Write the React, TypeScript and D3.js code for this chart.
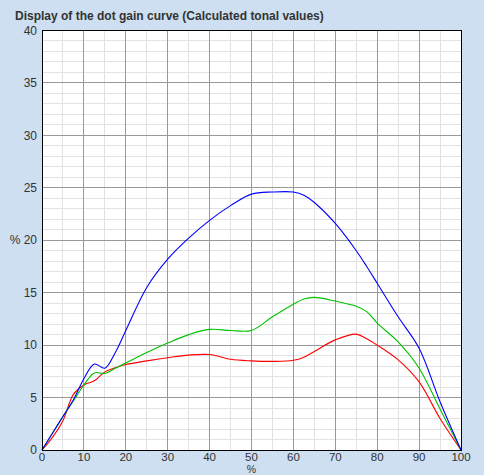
import React, { useEffect, useRef } from 'react';
import * as d3 from 'd3';

// tonal value (%) sampled along the x axis
const tones = [0, 2.5, 5, 7.5, 10, 12.5, 15, 17.5, 20, 25, 30, 35, 40, 45, 50, 55, 60, 62.5, 65, 70, 75, 77.5, 80, 85, 90, 95, 100];

// dot gain (%) per curve
const blueGain = [0, 1.6, 3.2, 4.8, 6.8, 8.2, 7.8, 9.3, 11.4, 15.5, 18.2, 20.2, 21.9, 23.3, 24.4, 24.6, 24.6, 24.3, 23.6, 21.6, 19.0, 17.5, 15.9, 12.7, 9.7, 4.6, 0];
const greenGain = [0, 1.6, 3.2, 4.7, 6.2, 7.35, 7.3, 7.8, 8.3, 9.3, 10.2, 11.0, 11.5, 11.4, 11.4, 12.7, 13.9, 14.4, 14.55, 14.2, 13.7, 13.2, 12.1, 10.3, 7.8, 3.9, 0];
const redGain = [0, 1.2, 2.8, 5.3, 6.2, 6.6, 7.45, 7.85, 8.15, 8.5, 8.8, 9.05, 9.1, 8.65, 8.5, 8.45, 8.55, 8.85, 9.4, 10.5, 11.05, 10.6, 10.0, 8.6, 6.5, 3.0, 0];

const xTicks = [0, 10, 20, 30, 40, 50, 60, 70, 80, 90, 100];
const yTicks = [0, 5, 10, 15, 20, 25, 30, 35, 40];

const series = [
  { name: 'red', values: redGain, color: '#ff0000' },
  { name: 'green', values: greenGain, color: '#00c000' },
  { name: 'blue', values: blueGain, color: '#0000ff' },
];

const W = 484;
const H = 475;

export default function App() {
  const svgRef = useRef<SVGSVGElement | null>(null);

  useEffect(() => {
    document.body.style.margin = '0';
    if (!svgRef.current) return;

    const margin = { top: 30.5, right: 23, bottom: 25, left: 42 };
    const x0 = margin.left;
    const x1 = W - margin.right;
    const y0 = H - margin.bottom;
    const y1 = margin.top;

    const x = d3.scaleLinear().domain([0, 100]).range([x0, x1]);
    const y = d3.scaleLinear().domain([0, 40]).range([y0, y1]);

    const svg = d3.select(svgRef.current);
    svg.selectAll('*').remove();

    svg.append('rect').attr('width', W).attr('height', H).attr('fill', '#cddff0');

    svg
      .append('text')
      .attr('x', 15)
      .attr('y', 20)
      .attr('font-family', 'Liberation Sans, Arial, sans-serif')
      .attr('font-size', 12)
      .attr('font-weight', 'bold')
      .attr('fill', '#333')
      .text('Display of the dot gain curve (Calculated tonal values)');

    svg
      .append('rect')
      .attr('x', x0)
      .attr('y', y1)
      .attr('width', x1 - x0)
      .attr('height', y0 - y1)
      .attr('fill', '#fff');

    const grid = svg.append('g').attr('shape-rendering', 'crispEdges');

    // minor grid
    grid
      .selectAll('line.mx')
      .data(d3.range(5, 100, 10))
      .enter()
      .append('line')
      .attr('x1', (d) => x(d))
      .attr('x2', (d) => x(d))
      .attr('y1', y1)
      .attr('y2', y0)
      .attr('stroke', '#e2e2e2');
    grid
      .selectAll('line.my')
      .data(d3.range(1, 40).filter((d) => d % 5 !== 0))
      .enter()
      .append('line')
      .attr('x1', x0)
      .attr('x2', x1)
      .attr('y1', (d) => y(d))
      .attr('y2', (d) => y(d))
      .attr('stroke', '#e2e2e2');

    // major grid
    grid
      .selectAll('line.Mx')
      .data(xTicks.slice(1, -1))
      .enter()
      .append('line')
      .attr('x1', (d) => x(d))
      .attr('x2', (d) => x(d))
      .attr('y1', y1)
      .attr('y2', y0)
      .attr('stroke', '#999');
    grid
      .selectAll('line.My')
      .data(yTicks.slice(1, -1))
      .enter()
      .append('line')
      .attr('x1', x0)
      .attr('x2', x1)
      .attr('y1', (d) => y(d))
      .attr('y2', (d) => y(d))
      .attr('stroke', '#999');

    const line = d3
      .line<number>()
      .x((_, i) => x(tones[i]))
      .y((d) => y(d))
      .curve(d3.curveCatmullRom.alpha(0.5));

    svg
      .append('g')
      .selectAll('path')
      .data(series)
      .enter()
      .append('path')
      .attr('d', (s) => line(s.values))
      .attr('fill', 'none')
      .attr('stroke', (s) => s.color)
      .attr('stroke-width', 1.1);

    svg
      .append('rect')
      .attr('x', x0)
      .attr('y', y1)
      .attr('width', x1 - x0)
      .attr('height', y0 - y1)
      .attr('fill', 'none')
      .attr('stroke', '#000')
      .attr('shape-rendering', 'crispEdges');

    const font = 'Liberation Sans, Arial, sans-serif';

    svg
      .append('g')
      .selectAll('text')
      .data(xTicks)
      .enter()
      .append('text')
      .attr('x', (d) => x(d))
      .attr('y', y0 + 11)
      .attr('text-anchor', 'middle')
      .attr('font-family', font)
      .attr('font-size', 11.5)
      .attr('fill', '#333')
      .text((d) => d);

    svg
      .append('g')
      .selectAll('text')
      .data(yTicks)
      .enter()
      .append('text')
      .attr('x', x0 - 5)
      .attr('y', (d) => y(d))
      .attr('dy', '0.35em')
      .attr('text-anchor', 'end')
      .attr('font-family', font)
      .attr('font-size', 12)
      .attr('fill', '#333')
      .text((d) => (d === 20 ? `% ${d}` : `${d}`));

    svg
      .append('text')
      .attr('x', x(50))
      .attr('y', H - 2)
      .attr('text-anchor', 'middle')
      .attr('font-family', font)
      .attr('font-size', 10.5)
      .attr('fill', '#333')
      .text('%');
  }, []);

  return <svg ref={svgRef} width={W} height={H} style={{ display: 'block' }} />;
}
